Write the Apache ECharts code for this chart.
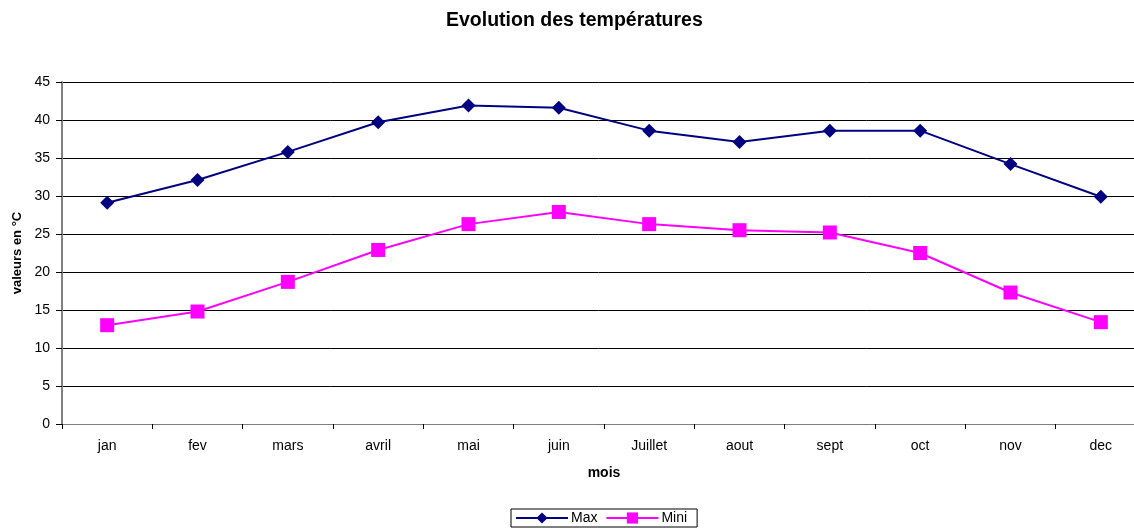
<!DOCTYPE html>
<html><head><meta charset="utf-8">
<script src="https://cdn.jsdelivr.net/npm/echarts@6/dist/echarts.min.js"></script>
<style>html,body{margin:0;padding:0;background:#fff}#c{width:1134px;height:528px}</style>
</head><body><div id="c"></div>
<script>
const categories = ['jan','fev','mars','avril','mai','juin','Juillet','aout','sept','oct','nov','dec'];
const maxValues = [29.1, 32.1, 35.8, 39.7, 41.9, 41.6, 38.6, 37.1, 38.6, 38.6, 34.2, 29.9];
const miniValues = [13.0, 14.8, 18.7, 22.9, 26.3, 27.9, 26.3, 25.5, 25.2, 22.5, 17.3, 13.4];
const yTicks = [0,5,10,15,20,25,30,35,40,45];

const font = 'Liberation Sans, Arial, sans-serif';
const chart = echarts.init(document.getElementById('c'));
chart.setOption({
  animation: false,
  backgroundColor: '#fff',
  title: {
    text: 'Evolution des températures', left: 446, top: 11, padding: 0,
    textStyle: {fontFamily: font, fontSize: 19.5, fontWeight: 'bold', color: '#000'}
  },
  legend: {
    top: 509, left: 511,
    data: ['Max','Mini'],
    borderColor: '#000', borderWidth: 1, padding: [2, 10, 2, 4],
    itemWidth: 52, itemHeight: 14, itemGap: 8,
    textStyle: {fontFamily: font, fontSize: 14, color: '#000', padding: [0,0,0,-2]}
  },
  grid: {left: 62, right: -12, top: 82, bottom: 104, containLabel: false, outerBoundsMode: 'none'},
  xAxis: {
    type: 'category', data: categories, boundaryGap: true,
    name: 'mois', nameLocation: 'middle', nameGap: 42,
    nameTextStyle: {fontFamily: font, fontSize: 14, fontWeight: 'bold', color: '#000'},
    axisLine: {lineStyle: {color: '#808080', width: 1}},
    axisTick: {show: true, length: 5, lineStyle: {color: '#000'}},
    axisLabel: {fontFamily: font, fontSize: 14, color: '#000', margin: 15}
  },
  yAxis: {
    type: 'value', min: yTicks[0], max: yTicks[yTicks.length-1], interval: 5,
    name: 'valeurs en °C', nameLocation: 'middle', nameGap: 37, nameRotate: 90,
    nameTextStyle: {fontFamily: font, fontSize: 13, fontWeight: 'bold', color: '#000'},
    axisLine: {show: true, lineStyle: {color: '#808080', width: 2}},
    axisTick: {show: true, length: 6, lineStyle: {color: '#000'}},
    axisLabel: {fontFamily: font, fontSize: 14, color: '#000', margin: 12},
    splitLine: {show: true, lineStyle: {color: '#000', width: 1}}
  },
  series: [
    {
      name: 'Max', type: 'line', data: maxValues,
      symbol: 'diamond', symbolSize: [14, 14],
      itemStyle: {color: '#000080'},
      lineStyle: {color: '#000080', width: 2}
    },
    {
      name: 'Mini', type: 'line', data: miniValues,
      symbol: 'rect', symbolSize: 14,
      itemStyle: {color: '#FF00FF'},
      lineStyle: {color: '#FF00FF', width: 2}
    }
  ]
});
</script></body></html>
